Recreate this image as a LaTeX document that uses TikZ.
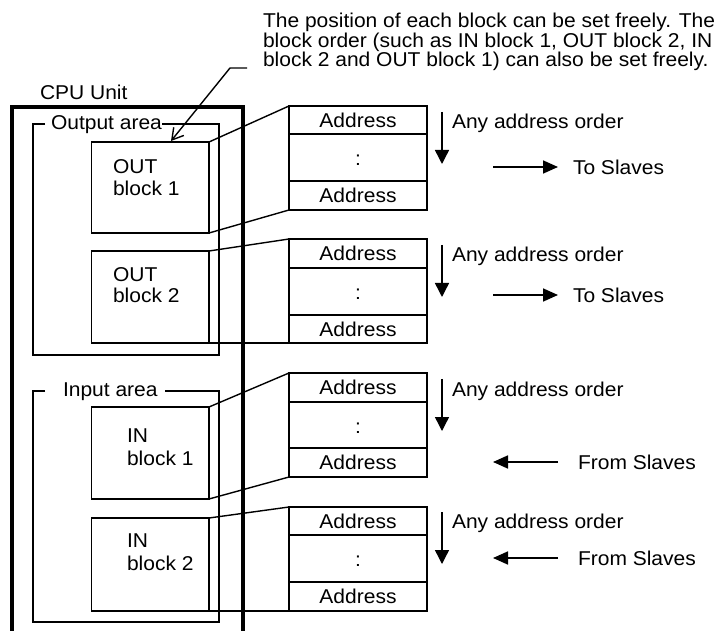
\documentclass[tikz,border=0pt]{standalone}
\usepackage{fontspec}
\setmainfont{Liberation Sans}[FakeStretch=1.05]
\usetikzlibrary{arrows.meta}
\begin{document}
\begin{tikzpicture}[x=1pt,y=-1pt,
  font=\fontsize{20}{20}\selectfont,
  cpubox/.style={draw, line width=3.2pt, rectangle, inner sep=0pt, outer sep=0pt,
    anchor=north west, minimum width=231pt, minimum height=600pt},
  arealn/.style={line width=1.6pt},
  blk/.style={draw, line width=1.5pt, rectangle, inner sep=0pt, outer sep=0pt,
    anchor=north west, minimum width=117.5pt},
  txt/.style={inner sep=0pt, outer sep=0pt, anchor=base west},
  row/.style={draw, line width=1.5pt, rectangle, minimum width=138pt, inner sep=0pt,
    outer sep=0pt, text height=14.3pt, text depth=0pt},
  dotrow/.style={row, text height=16pt},
  downarr/.style={line width=1.4pt, -{Triangle[length=14pt,width=14pt]}},
  sidearr/.style={line width=1.7pt, -{Triangle[length=15pt,width=13pt]}},
  leader/.style={line width=1.4pt, -{Straight Barb[length=11pt,width=13pt]}},
  link/.style={line width=1.4pt}
]
\clip (0,0) rectangle (721,631);
\fill[white] (0,0) rectangle (721,631);

% title
\node[txt] (title1) at (263,28) {The position of each block can be set freely. The};
\node[txt] (title2) at (263,47.5) {block order (such as IN block 1, OUT block 2, IN};
\node[txt] (title3) at (263,67) {block 2 and OUT block 1) can also be set freely.};

% CPU unit
\node[txt] (cpulbl) at (40,100) {CPU Unit};
\node[cpubox] (cpu) at (12,107) {};

% output area
\node[txt] (outlbl) at (51,130) {Output area};
\draw[arealn] (45,124) -- (33,124) -- (33,355) -- (219,355) -- (219,124) -- (162,124);

% input area
\node[txt] (inlbl) at (63,396) {Input area};
\draw[arealn] (45,391) -- (33,391) -- (33,622) -- (219,622) -- (219,391) -- (165,391);

% blocks
\node[blk, minimum height=91pt] (out1) at (91.5,142) {};
\node[txt] (out1a) at (113,174) {OUT};
\node[txt] (out1b) at (113,196) {block 1};

\node[blk, minimum height=92pt] (out2) at (91.5,251) {};
\node[txt] (out2a) at (113,282) {OUT};
\node[txt] (out2b) at (113,303) {block 2};

\node[blk, minimum height=92pt] (in1) at (91.5,407) {};
\node[txt] (in1a) at (127,442) {IN};
\node[txt] (in1b) at (127,465) {block 1};

\node[blk, minimum height=93pt] (in2) at (91.5,518) {};
\node[txt] (in2a) at (127,547) {IN};
\node[txt] (in2b) at (127,570) {block 2};

% tables
\node[row, minimum height=28pt] (t1a) at (358,120) {Address};
\node[dotrow, minimum height=47pt] (t1b) at (358,157.5) {:};
\node[row, minimum height=29pt] (t1c) at (358,195.5) {Address};

\node[row, minimum height=29pt] (t2a) at (358,253.5) {Address};
\node[dotrow, minimum height=47pt] (t2b) at (358,291.5) {:};
\node[row, minimum height=28pt] (t2c) at (358,329) {Address};

\node[row, minimum height=29pt] (t3a) at (358,387.5) {Address};
\node[dotrow, minimum height=46pt] (t3b) at (358,425) {:};
\node[row, minimum height=29pt] (t3c) at (358,462.5) {Address};

\node[row, minimum height=28pt] (t4a) at (358,521) {Address};
\node[dotrow, minimum height=47pt] (t4b) at (358,558.5) {:};
\node[row, minimum height=29pt] (t4c) at (358,596.5) {Address};

% links block -> table
\draw[link] (out1.north east) -- (t1a.north west);
\draw[link] (out1.south east) -- (t1c.south west);
\draw[link] (out2.north east) -- (t2a.north west);
\draw[link] (out2.south east) -- (t2c.south west);
\draw[link] (in1.north east) -- (t3a.north west);
\draw[link] (in1.south east) -- (t3c.south west);
\draw[link] (in2.north east) -- (t4a.north west);
\draw[link] (in2.south east) -- (t4c.south west);

% leader
\coordinate (ld0) at (247,68);
\coordinate (ld1) at (230,68);
\coordinate (ldtip) at (171,141);
\draw[leader] (ld0) -- (ld1) -- (ldtip);

% address order arrows
\coordinate (d1a) at (442,112); \coordinate (d1b) at (442,164);
\coordinate (d2a) at (442,245); \coordinate (d2b) at (442,297);
\coordinate (d3a) at (442,379); \coordinate (d3b) at (442,431);
\coordinate (d4a) at (442,512); \coordinate (d4b) at (442,564);
\draw[downarr] (d1a) -- (d1b);
\draw[downarr] (d2a) -- (d2b);
\draw[downarr] (d3a) -- (d3b);
\draw[downarr] (d4a) -- (d4b);
\node[txt] (ord1) at (452,129) {Any address order};
\node[txt] (ord2) at (452,262) {Any address order};
\node[txt] (ord3) at (452,396) {Any address order};
\node[txt] (ord4) at (452,528) {Any address order};

% slave arrows
\coordinate (s1a) at (493,167); \coordinate (s1b) at (558,167);
\coordinate (s2a) at (493,295); \coordinate (s2b) at (558,295);
\coordinate (s3a) at (558,462); \coordinate (s3b) at (493,462);
\coordinate (s4a) at (558,558); \coordinate (s4b) at (493,558);
\draw[sidearr] (s1a) -- (s1b);
\draw[sidearr] (s2a) -- (s2b);
\draw[sidearr] (s3a) -- (s3b);
\draw[sidearr] (s4a) -- (s4b);
\node[txt] (sl1) at (573,174.5) {To Slaves};
\node[txt] (sl2) at (573,302.5) {To Slaves};
\node[txt] (sl3) at (578,469.5) {From Slaves};
\node[txt] (sl4) at (578,565.5) {From Slaves};
\end{tikzpicture}
\end{document}
